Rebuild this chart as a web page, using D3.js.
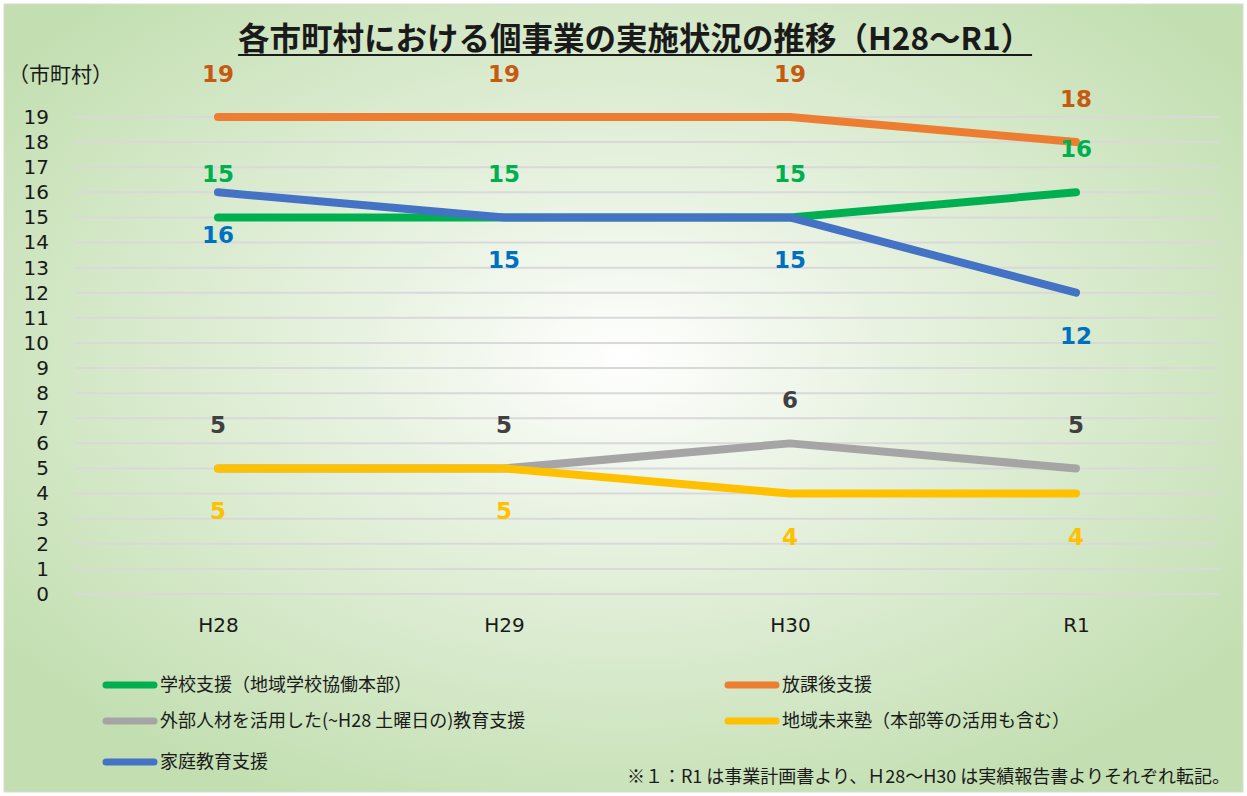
<!DOCTYPE html>
<html>
<head>
<meta charset="utf-8">
<script src="https://cdn.jsdelivr.net/npm/d3@7"></script>
<style>
  body { margin: 0; }
  svg { display: block; }
</style>
</head>
<body>
<script>
// categories and series values
const years = ['H28', 'H29', 'H30', 'R1'];
const gakkou = [15, 15, 15, 16];
const houkago = [19, 19, 19, 18];
const gaibu = [5, 5, 6, 5];
const mirai = [5, 5, 4, 4];
const katei = [16, 15, 15, 12];
const yTicks = d3.range(0, 20);

const series = [
  { name: '学校支援（地域学校協働本部）', values: gakkou, color: '#00b050', label: '#00b050', pos: 'above' },
  { name: '放課後支援', values: houkago, color: '#ed7d31', label: '#c55a11', pos: 'above' },
  { name: '外部人材を活用した(~H28 土曜日の)教育支援', values: gaibu, color: '#a5a5a5', label: '#404040', pos: 'above' },
  { name: '地域未来塾（本部等の活用も含む）', values: mirai, color: '#ffc000', label: '#ffc000', pos: 'below' },
  { name: '家庭教育支援', values: katei, color: '#4472c4', label: '#0070c0', pos: 'below' },
];

const W = 1247, H = 796;
const svg = d3.select('body').append('svg')
  .attr('width', W)
  .attr('height', H);

// background
const defs = svg.append('defs');
const grad = defs.append('radialGradient')
  .attr('id', 'bg')
  .attr('cx', '50%').attr('cy', '45%').attr('r', '62%');
grad.append('stop').attr('offset', '0%').attr('stop-color', '#ffffff');
grad.append('stop').attr('offset', '35%').attr('stop-color', '#e8f2e1');
grad.append('stop').attr('offset', '100%').attr('stop-color', '#c3dfb1');

svg.append('rect')
  .attr('x', 0).attr('y', 0).attr('width', W).attr('height', H)
  .attr('fill', '#ffffff');
svg.append('rect')
  .attr('x', 4).attr('y', 4).attr('width', W - 8).attr('height', H - 8)
  .attr('fill', 'url(#bg)')
  .attr('stroke', '#d9d9d9');

// scales
const x = d3.scalePoint().domain(years).range([75, 1219]).padding(0.5);
const y = d3.scaleLinear().domain([0, 19]).range([594, 117]);

// gridlines
svg.append('g')
  .selectAll('line')
  .data(yTicks)
  .join('line')
  .attr('x1', 75).attr('x2', 1219)
  .attr('y1', d => y(d)).attr('y2', d => y(d))
  .attr('stroke', '#d9d9d9')
  .attr('stroke-width', 2);

// y axis labels
const yAxis = svg.append('g')
  .attr('transform', 'translate(58,0)')
  .call(d3.axisLeft(y).tickValues(yTicks).tickSize(0).tickPadding(9).tickFormat(d3.format('d')));
yAxis.select('.domain').remove();
yAxis.selectAll('text')
  .attr('font-family', '"DejaVu Sans", Verdana, sans-serif')
  .attr('font-size', 20)
  .attr('fill', '#1a1a1a');

// x axis labels
const xAxis = svg.append('g')
  .attr('transform', 'translate(0,610)')
  .call(d3.axisBottom(x).tickSize(0).tickPadding(8));
xAxis.select('.domain').remove();
xAxis.selectAll('text')
  .attr('font-family', '"DejaVu Sans", Verdana, sans-serif')
  .attr('font-size', 20)
  .attr('fill', '#1a1a1a');

// unit label
svg.append('text')
  .attr('x', 8).attr('y', 82)
  .attr('font-family', '"Noto Sans CJK JP", sans-serif')
  .attr('font-size', 21)
  .attr('fill', '#1a1a1a')
  .text('（市町村）');

// title
const title = svg.append('text')
  .attr('x', 635).attr('y', 50)
  .attr('text-anchor', 'middle')
  .attr('font-family', '"Noto Sans CJK JP", sans-serif')
  .attr('font-weight', 'bold')
  .attr('font-size', 31.5)
  .attr('fill', '#1a1a1a')
  .text('各市町村における個事業の実施状況の推移（H28～R1）');
const tb = title.node().getBBox();
svg.append('line')
  .attr('x1', tb.x).attr('x2', tb.x + tb.width)
  .attr('y1', 55).attr('y2', 55)
  .attr('stroke', '#1a1a1a')
  .attr('stroke-width', 2);

// lines
const line = d3.line()
  .x((d, i) => x(years[i]))
  .y(d => y(d));

svg.append('g')
  .selectAll('path')
  .data(series)
  .join('path')
  .attr('d', d => line(d.values))
  .attr('fill', 'none')
  .attr('stroke', d => d.color)
  .attr('stroke-width', 8)
  .attr('stroke-linecap', 'round')
  .attr('stroke-linejoin', 'round');

// data labels
series.forEach(s => {
  svg.append('g')
    .selectAll('text')
    .data(s.values)
    .join('text')
    .attr('x', (d, i) => x(years[i]))
    .attr('y', d => y(d) + (s.pos === 'above' ? -35 : 51))
    .attr('text-anchor', 'middle')
    .attr('font-family', '"DejaVu Sans", Verdana, sans-serif')
    .attr('font-weight', 'bold')
    .attr('font-size', 23)
    .attr('fill', s.label)
    .text(d => d);
});

// legend
const legendPos = [
  [103, 685], [725, 685],
  [103, 721], [725, 721],
  [103, 762],
];
const legendOrder = [0, 1, 2, 3, 4];
const legend = svg.append('g')
  .selectAll('g')
  .data(legendOrder)
  .join('g')
  .attr('transform', (d, i) => `translate(${legendPos[i][0]},${legendPos[i][1]})`);
legend.append('line')
  .attr('x1', 3).attr('x2', 51)
  .attr('y1', 0).attr('y2', 0)
  .attr('stroke', d => series[d].color)
  .attr('stroke-width', 7)
  .attr('stroke-linecap', 'round');
legend.append('text')
  .attr('x', 57).attr('y', 6)
  .attr('font-family', '"Noto Sans CJK JP", sans-serif')
  .attr('font-size', 18)
  .attr('fill', '#1a1a1a')
  .text(d => series[d].name);

// footnote
svg.append('text')
  .attr('x', 1230).attr('y', 783)
  .attr('text-anchor', 'end')
  .attr('font-family', '"Noto Sans CJK JP", sans-serif')
  .attr('font-size', 18)
  .attr('fill', '#1a1a1a')
  .text('※１：R1 は事業計画書より、Ｈ28～H30 は実績報告書よりそれぞれ転記。');
</script>
</body>
</html>
